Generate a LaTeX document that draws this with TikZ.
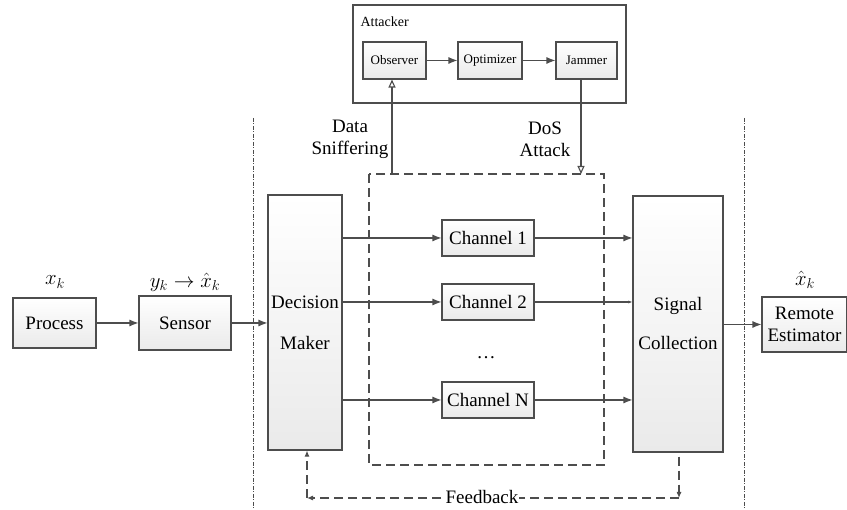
\documentclass[tikz,border=0pt]{standalone}
\usepackage{fontspec}
\setmainfont{Liberation Serif}
\usepackage{amsmath}
\usetikzlibrary{arrows.meta}
\usetikzlibrary{positioning}
\definecolor{LineGray}{HTML}{4D4D4D}
\definecolor{BoxShade}{HTML}{EAEAEA}
\tikzset{
  block/.style={draw=LineGray, line width=1.1pt, top color=white,
    bottom color=BoxShade, inner sep=0pt, align=center,
    font=\fontsize{19}{22}\selectfont},
  smallblock/.style={block, font=\fontsize{13}{15}\selectfont},
  flow/.style={LineGray, line width=1.1pt, -{Latex[length=9pt,width=7pt]}},
  attack/.style={LineGray, line width=1.1pt, -{Triangle[open,length=8pt,width=7pt]}},
  fbline/.style={LineGray, line width=1.1pt, dash pattern=on 9pt off 5pt},
  sep/.style={LineGray, line width=0.8pt, dash pattern=on 4pt off 1.5pt on 1pt off 1.5pt},
  lbl/.style={align=center, font=\fontsize{19}{22}\selectfont},
  mlbl/.style={font=\fontsize{21}{24}\selectfont},
}

\begin{document}
\begin{tikzpicture}[x=1pt, y=-1pt]
  \useasboundingbox (0,0) rectangle (847,510);

  % zone separators
  \draw [sep] (253,118) -- (253,510);
  \draw [sep] (744,118) -- (744,510);

  % attacker
  \draw [LineGray, line width=1.1pt] (353,5) rectangle (626,103);
  \node [anchor=west, font=\fontsize{14}{16}\selectfont] (attlbl) at (357,22) {Attacker};
  \node [smallblock, minimum width=63, minimum height=37] (obs) at (394.5,60.5) {Observer};
  \node [smallblock, minimum width=64, minimum height=37] (opt) at (490,60.5) {Optimizer};
  \node [smallblock, minimum width=61, minimum height=37] (jam) at (586.5,60.5) {Jammer};
  \draw [flow] (obs) -- (opt);
  \draw [flow] (opt) -- (jam);

  % channels
  \draw [fbline] (369,174) rectangle (604,465);
  \coordinate (snif) at (392,174);
  \coordinate (dos) at (581,174);

  \node [block, minimum width=83, minimum height=50] (proc) at (54.5,323) {Process};
  \node [block, minimum width=92, minimum height=54] (sens) at (185,323) {Sensor};
  \node [block, minimum width=74, minimum height=255] (dm) at (305,322.5) {Decision\\[19pt]Maker};
  \node [block, minimum width=90, minimum height=256] (sc) at (678,324) {Signal\\[17pt]Collection};
  \node [block, minimum width=85, minimum height=55] (rem) at (804.5,324.5) {Remote\\Estimator};

  \node [block, minimum width=92, minimum height=36] (ch1) at (488,238) {Channel 1};
  \node [block, minimum width=92, minimum height=36] (ch2) at (488,302) {Channel 2};
  \node [block, minimum width=92, minimum height=36] (chN) at (488,400) {Channel N};
  \node [lbl] (dots) at (486,358) {\dots};

  % labels
  \node [mlbl] (xk) at (55,282) {$x_k$};
  \node [mlbl] (yk) at (185,282) {$y_k \rightarrow \hat{x}_k$};
  \node [mlbl] (xhat) at (805,280) {$\hat{x}_k$};
  \node [lbl] (sniflbl) at (350,139) {Data\\Sniffering};
  \node [lbl] (doslbl) at (545,139) {DoS\\Attack};

  % signal flow
  \draw [flow] (proc) -- (sens);
  \draw [flow] (sens) -- (dm.west |- sens);
  \foreach \ch in {ch1,chN}{%
    \draw [flow] (dm.east |- \ch) -- (\ch);
    \draw [flow] (\ch) -- (\ch -| sc.west);
  }
  \draw [flow] (dm.east |- ch2) -- (ch2);
  \draw [LineGray, line width=1.1pt, -{Latex[length=4pt,width=3pt]}] (ch2) -- (ch2 -| sc.west);
  \draw [flow] (sc.east |- rem) -- (rem);

  % attacks
  \draw [attack] (snif) -- (snif |- obs.south);
  \draw [attack] (jam.south -| dos) -- (dos);

  % feedback
  \coordinate (fbR) at (679,498);
  \coordinate (fbL) at (307,498);
  \draw [fbline, -{Latex[length=6pt,width=5pt]}] ([yshift=-4pt]sc.south -| fbR) -- (fbR);
  \draw [fbline, -{Latex[length=6pt,width=5pt]}] (fbR) -- (fbL);
  \draw [fbline, -{Latex[length=6pt,width=5pt]}] (fbL) -- (fbL |- dm.south);
  \node [lbl, fill=white, inner sep=1pt] (fb) at (482,497) {Feedback};
\end{tikzpicture}
\end{document}
